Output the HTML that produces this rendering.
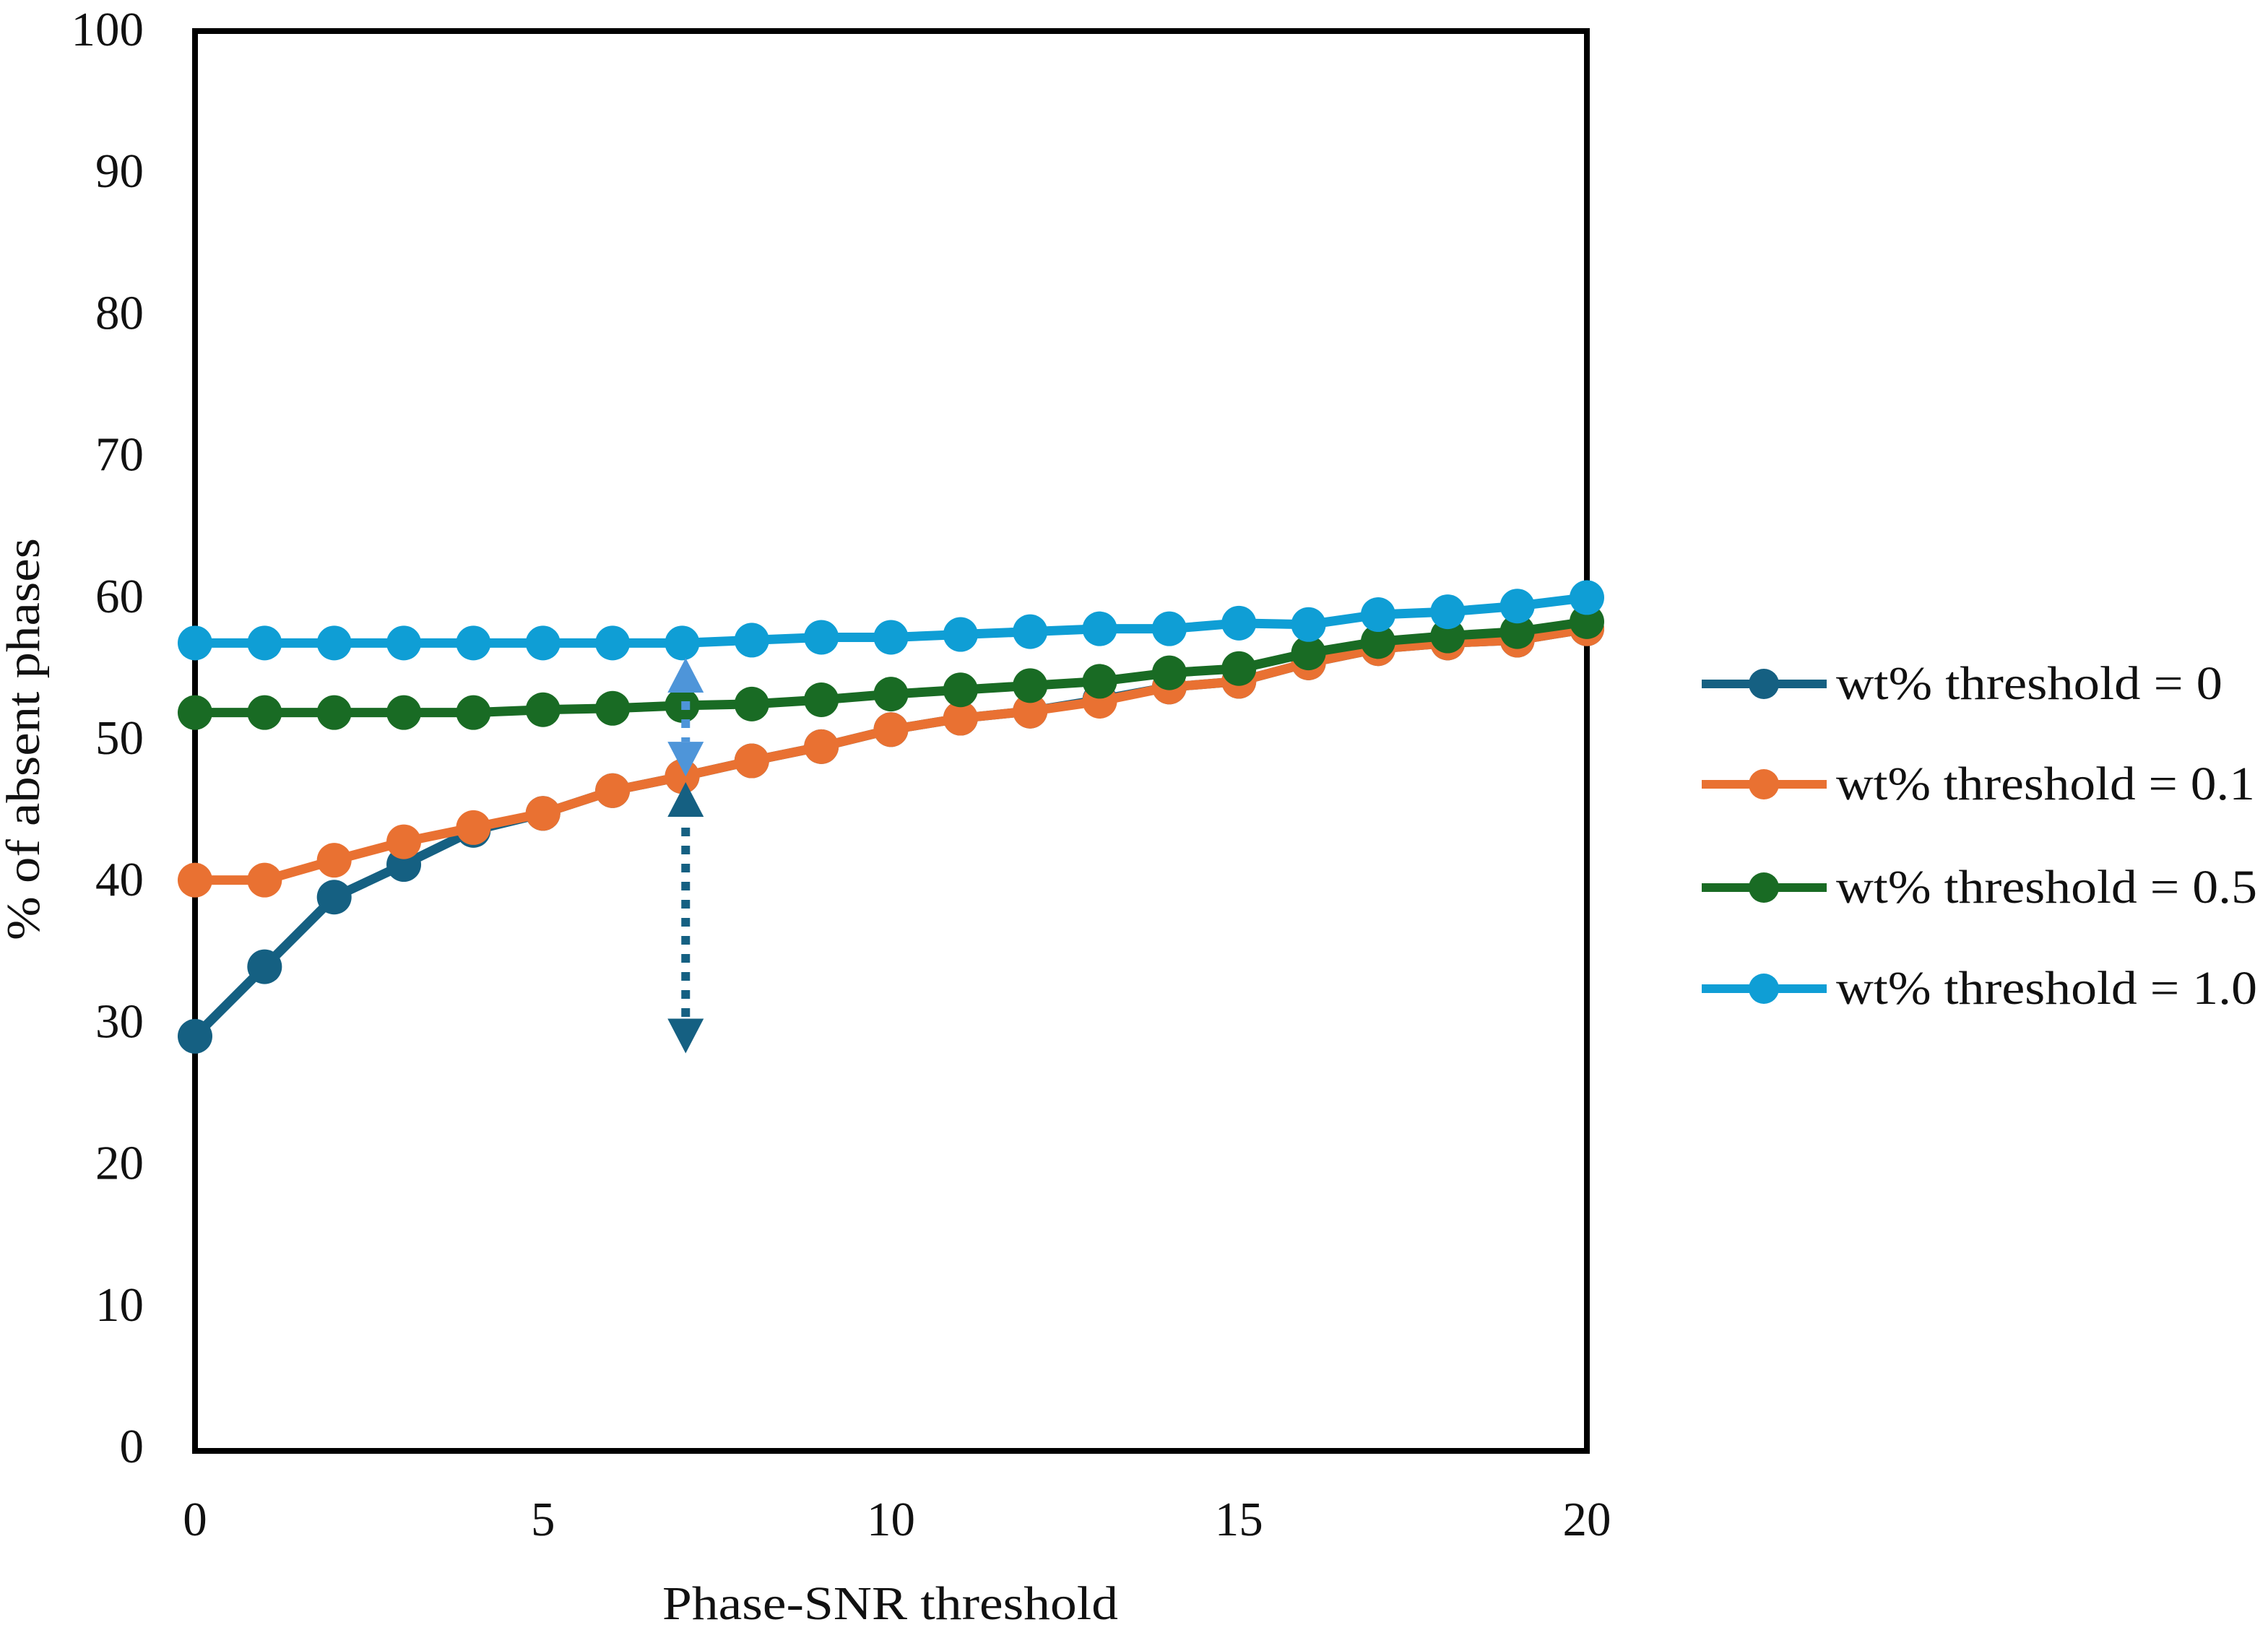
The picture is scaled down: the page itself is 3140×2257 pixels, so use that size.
<!DOCTYPE html>
<html lang="en">
<head>
<meta charset="utf-8">
<title>Percent of absent phases vs Phase-SNR threshold</title>
<style>
  html, body { margin: 0; padding: 0; background: #ffffff; }
  body { width: 3140px; height: 2257px; overflow: hidden; }
  svg { display: block; }
  text { font-family: "Liberation Serif", "DejaVu Serif", serif; fill: #111111; }
</style>
</head>
<body>
<svg id="chart" xmlns="http://www.w3.org/2000/svg" width="3140" height="2257" viewBox="0 0 3140 2257">
  <rect x="0" y="0" width="3140" height="2257" fill="#ffffff"/>
  <rect x="270" y="43" width="1927" height="1966" fill="none" stroke="#000000" stroke-width="8"/>
  <g id="y-ticks"></g>
  <g id="x-ticks"></g>
  <text x="917" y="2242" font-size="66" textLength="631" lengthAdjust="spacingAndGlyphs">Phase-SNR threshold</text>
  <text transform="translate(54 1302) rotate(-90)" x="0" y="0" font-size="66" textLength="557" lengthAdjust="spacingAndGlyphs">% of absent phases</text>
  <g id="series-layer"></g>
  <g id="arrow-layer"></g>
  <g id="legend"></g>
</svg>
<script>
const thresholds = [0,1,2,3,4,5,6,7,8,9,10,11,12,13,14,15,16,17,18,19,20];
const valuesWt0  = [29.2,34.1,39.0,41.3,43.7,44.9,46.5,47.5,48.6,49.6,50.8,51.6,52.1,52.9,53.8,54.2,55.5,56.5,56.9,57.1,57.9];
const valuesWt01 = [40.2,40.2,41.6,42.9,43.9,44.9,46.5,47.5,48.6,49.6,50.8,51.6,52.1,52.8,53.8,54.2,55.5,56.5,56.9,57.1,57.9];
const valuesWt05 = [52.0,52.0,52.0,52.0,52.0,52.2,52.3,52.5,52.6,52.9,53.3,53.6,53.9,54.2,54.8,55.1,56.2,57.0,57.4,57.7,58.4];
const valuesWt10 = [56.9,56.9,56.9,56.9,56.9,56.9,56.9,56.9,57.1,57.3,57.3,57.5,57.7,57.9,57.9,58.3,58.2,58.9,59.1,59.5,60.1];
const yTickValues = [0,10,20,30,40,50,60,70,80,90,100];
const xTickValues = [0,5,10,15,20];
const seriesLabels = ["wt% threshold = 0","wt% threshold = 0.1","wt% threshold = 0.5","wt% threshold = 1.0"];
const arrowThreshold = 7.05;
const lightArrowRange = [55.85,47.5];
const darkArrowRange = [47.1,28.0];

const SVG_NS = "http://www.w3.org/2000/svg";
const PLOT = { left: 270, right: 2197, top: 43, bottom: 2009 };
function xScale(v) { return PLOT.left + (v / 20) * (PLOT.right - PLOT.left); }
function yScale(v) { return PLOT.bottom - (v / 100) * (PLOT.bottom - PLOT.top); }
function make(tag, attrs, parent) {
  const el = document.createElementNS(SVG_NS, tag);
  for (const k in attrs) el.setAttribute(k, attrs[k]);
  parent.appendChild(el);
  return el;
}

const yTicksGroup = document.getElementById("y-ticks");
yTickValues.forEach(function (v) {
  const el = make("text", { x: 199, y: yScale(v) + 16 + v * 0.04, "font-size": 67, "text-anchor": "end" }, yTicksGroup);
  el.textContent = String(v);
  
  
});

const xTicksGroup = document.getElementById("x-ticks");
xTickValues.forEach(function (v) {
  const el = make("text", { x: xScale(v), y: 2126, "font-size": 67, "text-anchor": "middle" }, xTicksGroup);
  el.textContent = String(v);
  
  
});

const seriesColors = ["#156082", "#E97132", "#196B24", "#0F9ED5"];
const seriesValues = [valuesWt0, valuesWt01, valuesWt05, valuesWt10];
const seriesLayer = document.getElementById("series-layer");
seriesValues.forEach(function (vals, i) {
  const g = make("g", {}, seriesLayer);
  
  
  const pts = vals.map(function (v, k) { return xScale(thresholds[k]) + "," + yScale(v); }).join(" ");
  const line = make("polyline", { points: pts, fill: "none", stroke: seriesColors[i], "stroke-width": 13, "stroke-linejoin": "round" }, g);
  
  
  vals.forEach(function (v, k) {
    const c = make("circle", { cx: xScale(thresholds[k]), cy: yScale(v), r: 24, fill: seriesColors[i] }, g);
    
    
  });
});

function drawArrow(range, color, dotStartGap) {
  const layer = document.getElementById("arrow-layer");
  const x = xScale(arrowThreshold);
  const topApex = yScale(range[0]);
  const bottomApex = yScale(range[1]);
  const head = 48;
  const hw = 25;
  const shaft = make("line", { x1: x, x2: x, y1: topApex + head + dotStartGap, y2: bottomApex - head, stroke: color, "stroke-width": 12, "stroke-dasharray": "12 13" }, layer);
  
  
  const up = make("polygon", { points: x + "," + topApex + " " + (x + hw) + "," + (topApex + head) + " " + (x - hw) + "," + (topApex + head), fill: color }, layer);
  
  
  const down = make("polygon", { points: x + "," + bottomApex + " " + (x + hw) + "," + (bottomApex - head) + " " + (x - hw) + "," + (bottomApex - head), fill: color }, layer);
  
  
}
drawArrow(lightArrowRange, "#4E95D9", 12);
drawArrow(darkArrowRange, "#156082", 15);

const legendRowY = [947, 1086, 1229, 1369];
const legendTextWidth = [535, 580, 583, 583];
const legend = document.getElementById("legend");
seriesLabels.forEach(function (label, i) {
  const y = legendRowY[i];
  const g = make("g", {}, legend);
  
  
  const ln = make("line", { x1: 2356, x2: 2529, y1: y, y2: y, stroke: seriesColors[i], "stroke-width": 12 }, g);
  
  
  const mk = make("circle", { cx: 2442, cy: y, r: 21, fill: seriesColors[i] }, g);
  
  
  const t = make("text", { x: 2542, y: y + 21, "font-size": 66, textLength: legendTextWidth[i], lengthAdjust: "spacingAndGlyphs" }, g);
  t.textContent = label;
  
  
});
</script>
</body>
</html>
